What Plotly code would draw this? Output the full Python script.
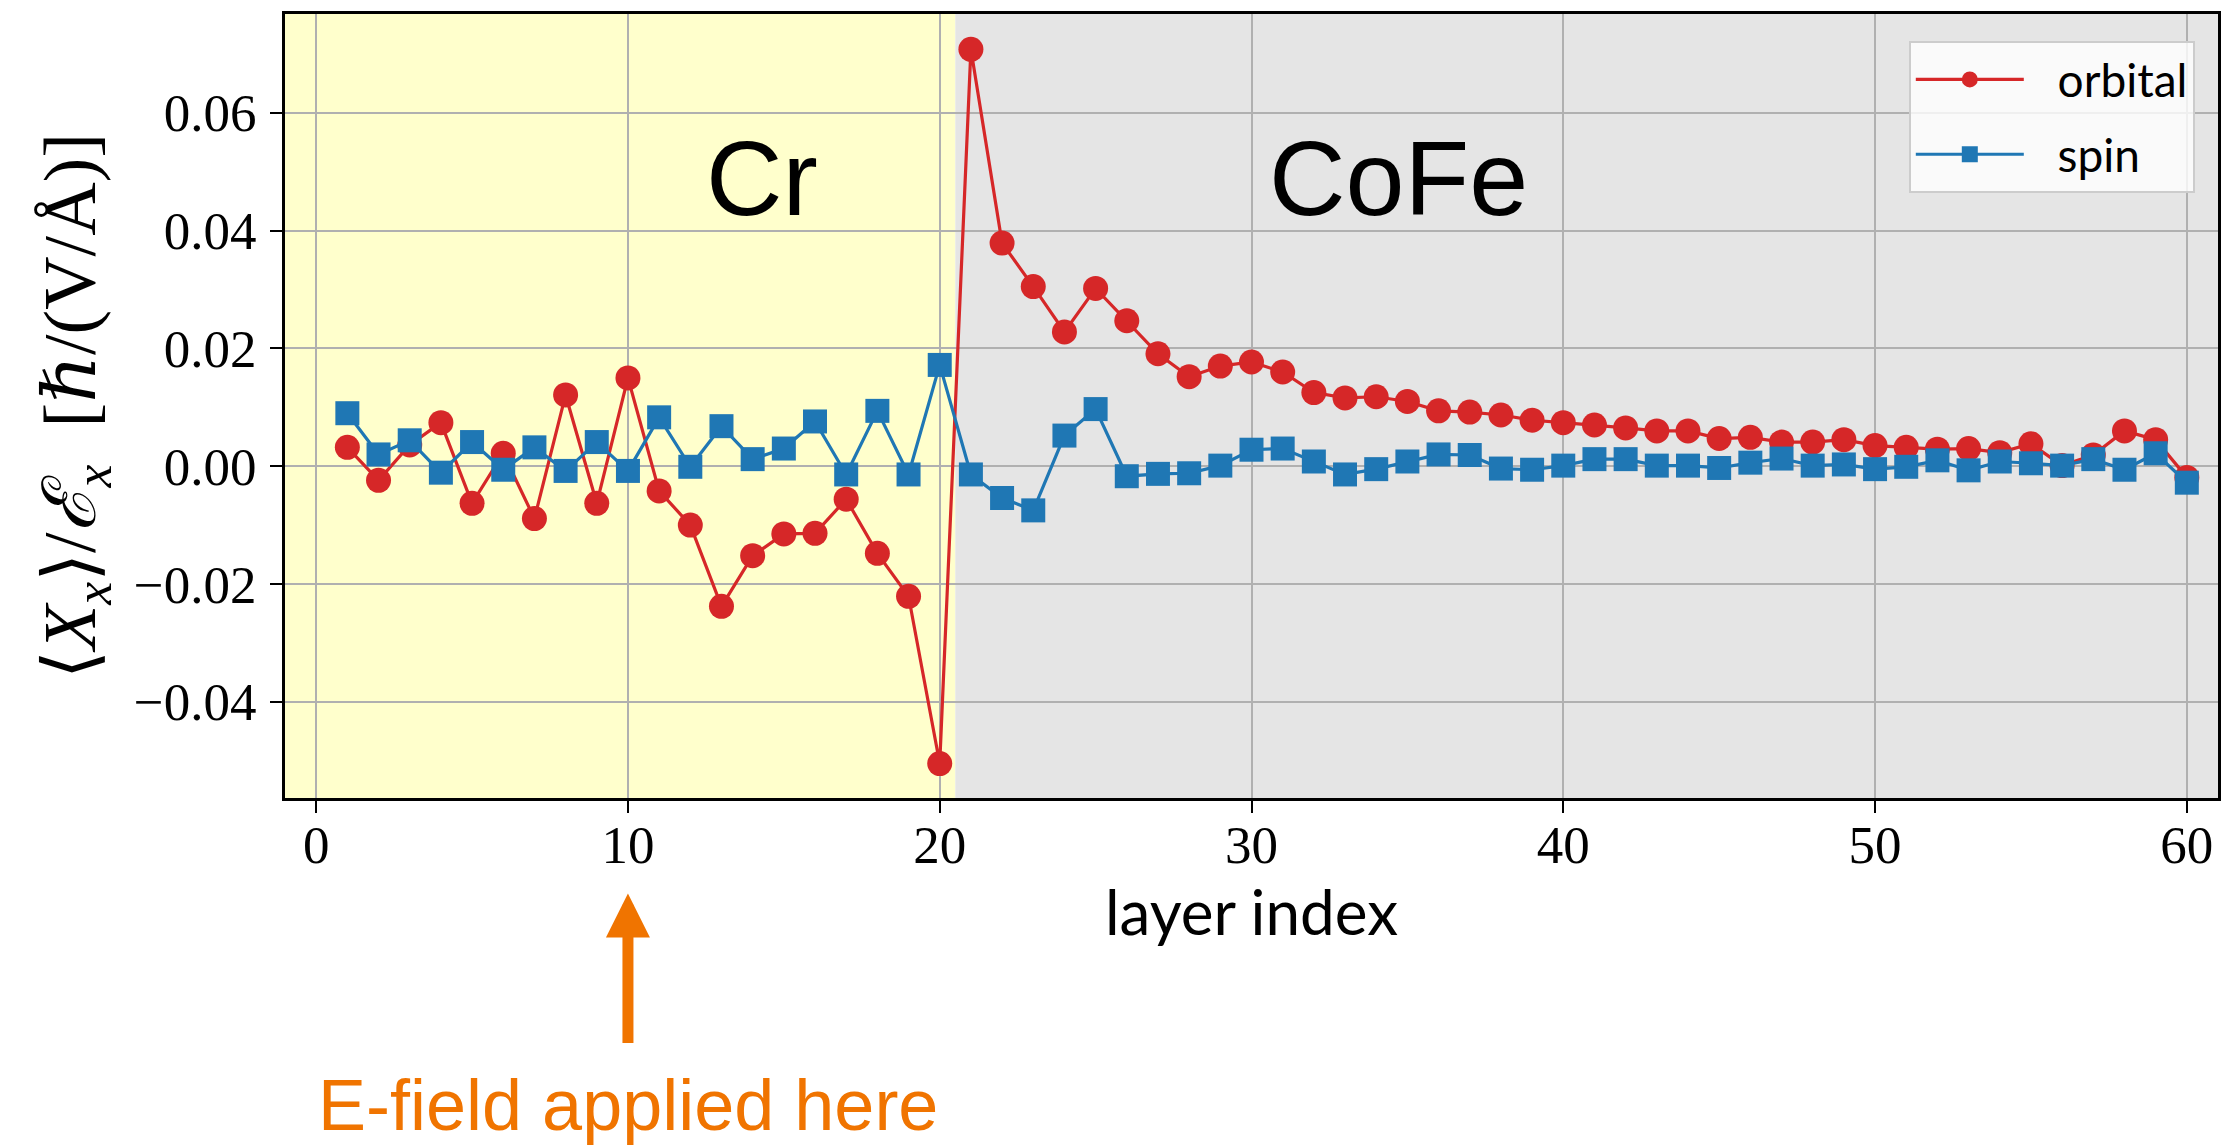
import plotly.graph_objects as go

# ---------------- data ----------------
layer = list(range(1, 61))

orbital = [
    0.0032, -0.0024, 0.0036, 0.0074, -0.0063, 0.0022, -0.0089, 0.0121, -0.0063, 0.0150,
    -0.0042, -0.0100, -0.0238, -0.0152, -0.0115, -0.0114, -0.0056, -0.0148, -0.0221, -0.0505,
    0.0708, 0.0379, 0.0305, 0.0228, 0.0302, 0.0247, 0.0191, 0.0152, 0.0170, 0.0177,
    0.0160, 0.0125, 0.0116, 0.0118, 0.0110, 0.0094, 0.0092, 0.0087, 0.0078, 0.0074,
    0.0070, 0.0065, 0.0060, 0.0060, 0.0047, 0.0049, 0.0041, 0.0041, 0.0045, 0.0035,
    0.0032, 0.0029, 0.0030, 0.0023, 0.0038, 0.0001, 0.0019, 0.0060, 0.0045, -0.0019,
]

spin = [
    0.0090, 0.0020, 0.0044, -0.0011, 0.0041, -0.0006, 0.0032, -0.0008, 0.0041, -0.0008,
    0.0083, -0.0001, 0.0068, 0.0012, 0.0030, 0.0076, -0.0014, 0.0094, -0.0014, 0.0172,
    -0.0014, -0.0054, -0.0075, 0.0052, 0.0097, -0.0017, -0.0013, -0.0012, 0.0001, 0.0028,
    0.0030, 0.0008, -0.0014, -0.0005, 0.0008, 0.0020, 0.0019, -0.0004, -0.0006, 0.0001,
    0.0012, 0.0012, 0.0001, 0.0001, -0.0003, 0.0006, 0.0013, 0.0001, 0.0003, -0.0005,
    -0.0001, 0.0010, -0.0007, 0.0008, 0.0005, 0.0001, 0.0012, -0.0006, 0.0022, -0.0028,
]

series_names = ["orbital", "spin"]
region_names = ["Cr", "CoFe"]
region_bounds = [(-1, 20.5), (20.5, 61)]
x_ticks = [0, 10, 20, 30, 40, 50, 60]
y_ticks = [-0.04, -0.02, 0.00, 0.02, 0.04, 0.06]

# ---------------- styling ----------------
RED = "#d62728"
BLUE = "#1f77b4"
ORANGE = "#F07400"
region_colors = ["#FFFFCC", "#E5E5E5"]
region_label_pos = [(14.3, 0.049), (34.7, 0.049)]

W, H = 2223, 1145
ML, MR, MT, MB = 285, 2, 14, 347

fig = go.Figure()

fig.add_trace(go.Scatter(
    x=layer, y=orbital, name="\u2002\u2009" + series_names[0], mode="lines+markers",
    legendgroup="g1",
    line=dict(color=RED, width=3.2),
    marker=dict(symbol="circle", size=25, color=RED, line=dict(width=0)),
))
fig.add_trace(go.Scatter(
    x=layer, y=spin, name="\u2002\u2009" + series_names[1], mode="lines+markers",
    legendgroup="g2",
    line=dict(color=BLUE, width=3.2),
    marker=dict(symbol="square", size=24, color=BLUE, line=dict(width=0)),
))

for (x0, x1), col in zip(region_bounds, region_colors):
    fig.add_shape(type="rect", xref="x", yref="paper", x0=x0, x1=x1, y0=0, y1=1,
                  fillcolor=col, line=dict(width=0), layer="below")

for name, (lx, ly) in zip(region_names, region_label_pos):
    fig.add_annotation(x=lx, y=ly, xref="x", yref="y", text=name, showarrow=False,
                       font=dict(family="Liberation Sans, Arial", size=106, color="black"),
                       xanchor="center", yanchor="middle")

# arrow + E-field label
fig.add_annotation(x=10, y=-0.1217, xref="x", yref="paper", text="",
                   showarrow=True, ax=0, ay=151, axref="pixel", ayref="pixel",
                   arrowhead=2, arrowsize=0.8, arrowwidth=11, arrowcolor=ORANGE, standoff=0)
fig.add_annotation(x=10, y=-0.391, xref="x", yref="paper", text="E-field applied here",
                   showarrow=False, xanchor="center", yanchor="middle",
                   font=dict(family="Liberation Sans, Arial", size=72, color=ORANGE))

tick_font = dict(family="Liberation Serif, DejaVu Serif, serif", size=53, color="black")

fig.update_xaxes(
    range=[-1, 61], tickvals=x_ticks, ticks="outside", ticklen=12, tickwidth=2,
    tickcolor="black", showline=True, linewidth=3, linecolor="black", mirror=True,
    showgrid=True, gridcolor="#b0b0b0", gridwidth=2, zeroline=False,
    tickfont=tick_font, ticklabelstandoff=-14,
    title=dict(text="layer index", font=dict(family="Lato, Open Sans, sans-serif", size=62, color="black"),
               standoff=4),
)
fig.update_yaxes(
    range=[-0.05635, 0.0768], tickvals=y_ticks, tickformat=".2f", ticks="outside",
    ticklen=12, tickwidth=2, tickcolor="black", showline=True, linewidth=3,
    linecolor="black", mirror=True, showgrid=True, gridcolor="#b0b0b0", gridwidth=2,
    zeroline=False, tickfont=tick_font, ticklabelstandoff=3,
    title=dict(text="⟨<i>X</i><sub><i>x</i></sub>⟩/<i>ℰ</i><sub><i>x</i></sub>  [<i>ℏ</i>/(V/Å)]",
               font=dict(family="Liberation Serif, DejaVu Serif, serif", size=74, color="black"),
               standoff=14),
)

fig.update_layout(
    width=W, height=H,
    margin=dict(l=ML, r=MR, t=MT, b=MB, pad=0),
    paper_bgcolor="white", plot_bgcolor="white",
    showlegend=True,
    legend=dict(x=0.988, y=0.9655, xanchor="right", yanchor="top",
                bgcolor="rgba(255,255,255,0.8)", bordercolor="#cccccc", borderwidth=2,
                font=dict(family="Lato, Open Sans, sans-serif", size=46, color="black"),
                itemsizing="trace", itemwidth=108, tracegroupgap=12),
)

fig.write_html("out.html", config={"displayModeBar": False},
               post_script="document.body.style.margin='0px';")
